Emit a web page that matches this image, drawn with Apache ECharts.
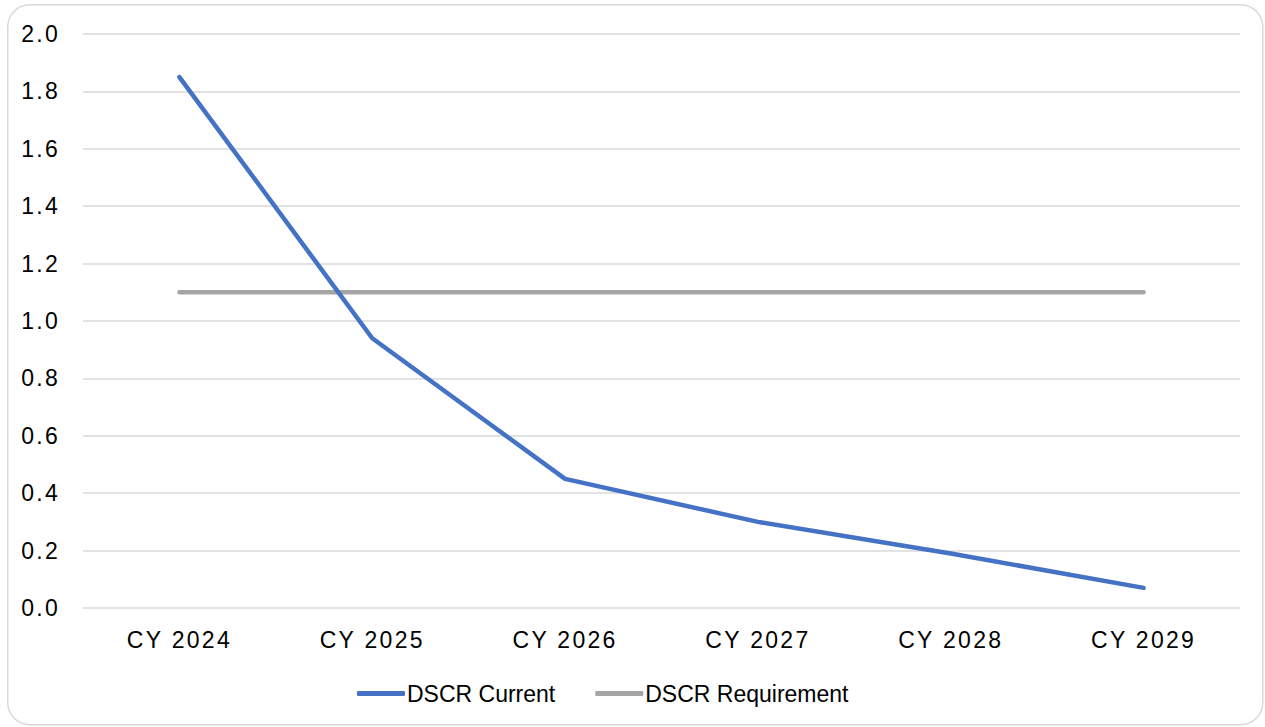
<!DOCTYPE html>
<html><head><meta charset="utf-8">
<script src="https://cdn.jsdelivr.net/npm/echarts@6/dist/echarts.min.js"></script>
<style>html,body{margin:0;padding:0;background:#fff}#c{width:1265px;height:727px}</style>
</head><body><div id="c"></div>
<script>
const categories = ['CY 2024','CY 2025','CY 2026','CY 2027','CY 2028','CY 2029'];
const dscrCurrent = [1.85, 0.94, 0.45, 0.30, 0.19, 0.07];
const dscrRequirement = [1.1, 1.1, 1.1, 1.1, 1.1, 1.1];
const yTicks = { min: 0, max: 2.0, interval: 0.2 };

const chart = echarts.init(document.getElementById('c'), null, {renderer:'svg'});
const font = 'Liberation Sans, Arial, sans-serif';
chart.setOption({
  animation: false,
  textStyle: { fontFamily: font },
  graphic: [{
    type: 'rect', left: 7, top: 4, silent: true, z: -10,
    shape: { width: 1255, height: 720, r: 22 },
    style: { fill: '#fff', stroke: '#d9d9d9', lineWidth: 1.5 }
  }],
  grid: { left: 83, right: 25, top: 34, bottom: 119, containLabel: false },
  legend: {
    top: 677, left: 352,
    itemWidth: 48, itemHeight: 5, itemGap: 40,
    icon: 'roundRect',
    textStyle: { fontSize: 23, color: '#000', fontFamily: font, padding: [0, 0, 0, -3] },
    data: ['DSCR Current', 'DSCR Requirement']
  },
  xAxis: {
    type: 'category', data: categories, boundaryGap: true,
    axisLine: { show: false }, axisTick: { show: false },
    axisLabel: { fontSize: 23, color: '#000', margin: 20, fontFamily: font }
  },
  yAxis: {
    type: 'value', min: yTicks.min, max: yTicks.max, interval: yTicks.interval,
    axisLine: { show: false }, axisTick: { show: false },
    axisLabel: { fontSize: 23, color: '#000', margin: 23, fontFamily: font,
      formatter: v => v.toFixed(1) },
    splitLine: { lineStyle: { color: '#d9d9d9', width: 1.5 } }
  },
  series: [
    { name: 'DSCR Current', type: 'line', data: dscrCurrent, symbol: 'none',
      lineStyle: { color: '#4472C4', width: 4.5, cap: 'round', join: 'round' },
      itemStyle: { color: '#4472C4' }, z: 3 },
    { name: 'DSCR Requirement', type: 'line', data: dscrRequirement, symbol: 'none',
      lineStyle: { color: '#A5A5A5', width: 4.5, cap: 'round' },
      itemStyle: { color: '#A5A5A5' }, z: 2 }
  ]
});
function spaceAxisText() {
  document.querySelectorAll('#c svg text').forEach(t => {
    if (!/DSCR/.test(t.textContent)) t.setAttribute('letter-spacing', '2.3');
  });
}
spaceAxisText();
chart.on('finished', spaceAxisText);
</script></body></html>
